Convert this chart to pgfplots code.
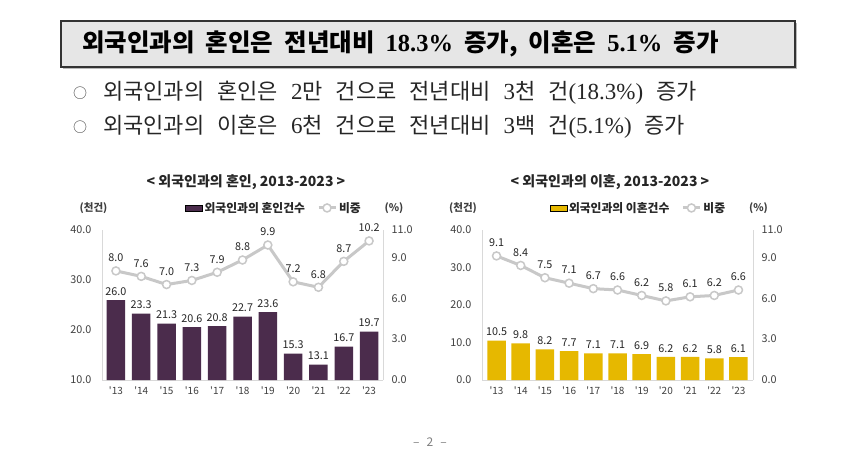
\documentclass[border=0pt]{standalone}
\usepackage{fontspec}
\usepackage{pgfplots}
\usepackage{pgfplotstable}
\pgfplotsset{compat=1.18}
\setmainfont{Liberation Serif}
\newfontfamily\kr{Noto Sans CJK KR}
\definecolor{marr}{HTML}{4B2C4C}
\definecolor{divc}{HTML}{E6B800}
\definecolor{lg}{HTML}{C8C8C8}
\definecolor{axisgray}{HTML}{D9D9D9}
\definecolor{tickgray}{HTML}{404040}
\definecolor{lab}{HTML}{262626}
\definecolor{hdrfill}{HTML}{E6E6E6}
\definecolor{hdrline}{HTML}{333333}

\pgfplotstableread{
x bar line
0 26.0 8.0
1 23.3 7.6
2 21.3 7.0
3 20.6 7.3
4 20.8 7.9
5 22.7 8.8
6 23.6 9.9
7 15.3 7.2
8 13.1 6.8
9 16.7 8.7
10 19.7 10.2
}\marriage

\pgfplotstableread{
x bar line
0 10.5 9.1
1 9.8 8.4
2 8.2 7.5
3 7.7 7.1
4 7.1 6.7
5 7.1 6.6
6 6.9 6.2
7 6.2 5.8
8 6.2 6.1
9 5.8 6.2
10 6.1 6.6
}\divorce

\newcommand\hsp{\hspace{11pt}}
\newcommand\bsp{\hspace{13pt}}
\newcommand\n[1]{{\rmfamily #1}}
\newcommand\bn[1]{{\rmfamily\fontsize{23}{25}\selectfont #1}}

\pgfplotsset{
  base/.style={
    scale only axis, height=150pt, anchor=south west,
    major tick length=0pt,
    axis line style={draw=axisgray, line width=0.8pt},
    tick label style={font=\kr\fontsize{10.8}{12}\selectfont, text=tickgray},
    /pgf/number format/fixed,
    /pgf/number format/fixed zerofill,
    /pgf/number format/precision=1,
    /pgf/number format/assume math mode=true,
  },
  leftax/.style={base, axis x line*=bottom, axis y line*=left,
    xtick={0,...,10},
    xticklabels={'13,'14,'15,'16,'17,'18,'19,'20,'21,'22,'23},
    xticklabel style={yshift=-3pt, font=\kr\fontsize{10}{11}\selectfont},
    yticklabel style={xshift=-7pt}},
  rightax/.style={base, axis x line=none, axis y line*=right,
    ymin=0, ymax=11, ytick={0,3,6,9,11},
    yticklabel style={xshift=5pt},
    legend columns=2,
    legend style={draw=none, fill=none, anchor=center,
      font=\kr\bfseries\fontsize{11.8}{13}\selectfont, text=lab,
      /tikz/every even column/.append style={column sep=10pt}},
    legend cell align=left},
  barlab/.style={nodes near coords, nodes near coords style={font=\kr\fontsize{10.8}{12}\selectfont, text=lab, anchor=south, yshift=1pt}},
  linelab/.style={nodes near coords, nodes near coords style={font=\kr\fontsize{10.8}{12}\selectfont, text=lab, anchor=south, yshift=5pt}},
  lineplot/.style={color=lg, line width=3pt, mark=*, mark size=4pt,
    mark options={fill=white, draw=lg, line width=1.5pt}},
}

\begin{document}
\begin{tikzpicture}[x=1pt,y=1pt]
\useasboundingbox (0,0) rectangle (850,466);
\fill[white] (0,0) rectangle (850,466);

% header
\fill[gray!55] (63,397) rectangle (797,443);
\filldraw[fill=hdrfill, draw=hdrline, line width=1.3pt] (61,399) rectangle (795,445);
\node[anchor=west, inner sep=0pt, font=\kr\bfseries\fontsize{24.5}{28}\selectfont] at (82,422)
 {외국인과의\hsp 혼인은\hsp 전년대비\hsp\n{\textbf{18.3\%}}\hsp 증가,\hsp 이혼은\hsp\n{\textbf{5.1\%}}\hsp 증가};

% bullets
\node[font=\kr\fontsize{14}{16}\selectfont, text=tickgray] at (80,373) {○};
\node[font=\kr\fontsize{14}{16}\selectfont, text=tickgray] at (80,339) {○};
\node[anchor=west, inner sep=0pt, text=lab, font=\kr\fontsize{22}{25}\selectfont] at (103,373)
 {외국인과의\bsp 혼인은\bsp\bn{2}만\bsp 건으로\bsp 전년대비\bsp\bn{3}천\bsp 건\bn{(18.3\%)}\bsp 증가};
\node[anchor=west, inner sep=0pt, text=lab, font=\kr\fontsize{22}{25}\selectfont] at (103,339)
 {외국인과의\bsp 이혼은\bsp\bn{6}천\bsp 건으로\bsp 전년대비\bsp\bn{3}백\bsp 건\bn{(5.1\%)}\bsp 증가};

% chart titles and unit labels
\node[font=\kr\bfseries\fontsize{14}{16}\selectfont, text=lab] at (246,284) {< 외국인과의 혼인, 2013-2023 >};
\node[font=\kr\bfseries\fontsize{14}{16}\selectfont, text=lab] at (610,284) {< 외국인과의 이혼, 2013-2023 >};
\node[font=\kr\bfseries\fontsize{10.5}{12}\selectfont, text=tickgray] at (93.5,258) {(천건)};
\node[font=\kr\bfseries\fontsize{10.5}{12}\selectfont, text=tickgray] at (394,258) {(\%)};
\node[font=\kr\bfseries\fontsize{10.5}{12}\selectfont, text=tickgray] at (463,258) {(천건)};
\node[font=\kr\bfseries\fontsize{10.5}{12}\selectfont, text=tickgray] at (758.5,258) {(\%)};

% left chart
\begin{axis}[leftax, at={(102pt,86pt)}, width=281pt, xmin=-0.55, xmax=10.55,
  ymin=10, ymax=40, ytick={10,20,30,40}]
\addplot[ybar, bar width=18.5pt, fill=marr, draw=none, barlab] table[x=x,y=bar]{\marriage};
\end{axis}
\begin{axis}[rightax, at={(102pt,86pt)}, width=281pt, xmin=-0.55, xmax=10.55,
  legend style={at={(0.612,1.147)}}]
\addlegendimage{area legend, fill=marr, draw=none}
\addlegendentry{외국인과의 혼인건수}
\addplot[lineplot, linelab] table[x=x,y=line]{\marriage};
\addlegendentry{비중}
\end{axis}

% right chart
\begin{axis}[leftax, at={(482pt,86pt)}, width=271pt, xmin=-0.6, xmax=10.6,
  ymin=0, ymax=40, ytick={0,10,20,30,40}]
\addplot[ybar, bar width=18.5pt, fill=divc, draw=none, barlab] table[x=x,y=bar]{\divorce};
\end{axis}
\begin{axis}[rightax, at={(482pt,86pt)}, width=271pt, xmin=-0.6, xmax=10.6,
  legend style={at={(0.577,1.147)}}]
\addlegendimage{area legend, fill=divc, draw=none}
\addlegendentry{외국인과의 이혼건수}
\addplot[lineplot, linelab] table[x=x,y=line]{\divorce};
\addlegendentry{비중}
\end{axis}

% page number
\node[font=\kr\fontsize{12}{14}\selectfont, text=gray] at (430,24) {–\hspace{7pt}2\hspace{7pt}–};
\end{tikzpicture}
\end{document}
